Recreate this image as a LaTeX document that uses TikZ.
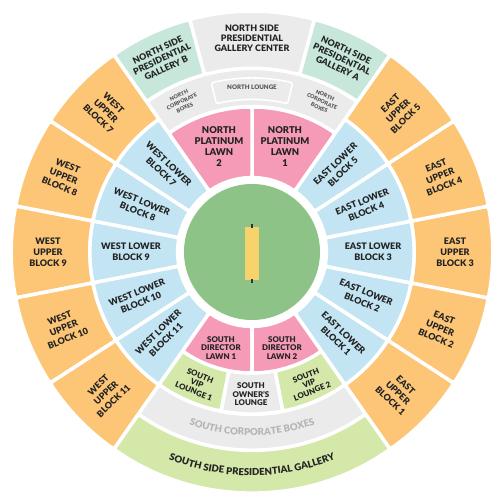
\documentclass[tikz,border=0pt]{standalone}
\usepackage{fontspec}
\setmainfont{Lato}[BoldFont={Lato Black}]
\usetikzlibrary{decorations.text}
\definecolor{orng}{HTML}{FDC677}
\definecolor{blu}{HTML}{C3E5F3}
\definecolor{pnk}{HTML}{F59BB8}
\definecolor{fld}{HTML}{8DC386}
\definecolor{ptch}{HTML}{F8D36C}
\definecolor{lgrn}{HTML}{D4E8A9}
\definecolor{mnt}{HTML}{C7E7DB}
\definecolor{gry}{HTML}{EBEBEB}
\definecolor{txt}{HTML}{232323}
\definecolor{gtxt}{HTML}{555555}
\definecolor{ltxt}{HTML}{B5B5B5}
\newcommand{\sectr}[6][]{\path[sec,fill=#2,#1] (#3:#5pt) arc[start angle=#3,end angle=#4,radius=#5pt] -- (#4:#6pt) arc[start angle=#4,end angle=#3,radius=#6pt] -- cycle;}
\tikzset{
  sec/.style={draw=white,line width=3.5pt,rounded corners=2.5pt},
  lbl/.style={align=center,text=txt,inner sep=0pt,font=\bfseries\fontsize{9}{11}\selectfont},
  lblm/.style={align=center,text=txt,inner sep=0pt,font=\bfseries\fontsize{7.9}{8.5}\selectfont},
  lbls/.style={align=center,text=gtxt,inner sep=0pt,font=\bfseries\fontsize{5.4}{6.8}\selectfont},
}
\begin{document}
\begin{tikzpicture}[x=1pt,y=1pt]
\useasboundingbox (-252,-245) rectangle (250,252);
\fill[white] (-252,-245) rectangle (250,252);
% field
\fill[fld] (0,0) circle[radius=68pt];
\fill[ptch] (-7,-28) rectangle (7,25.3);
\fill[black!80] (-0.7,23.8) rectangle (0.7,28.3);
\fill[black!80] (-0.7,-26.5) rectangle (0.7,-30.5);
% west upper
\sectr{orng}{125}{147}{162}{240.75}
\sectr{orng}{147}{169}{162}{240.75}
\sectr{orng}{169}{191}{162}{240.75}
\sectr{orng}{191}{213}{162}{240.75}
\sectr{orng}{213}{235}{162}{240.75}
% east upper
\sectr{orng}{-55}{-33}{162}{240.75}
\sectr{orng}{-33}{-11}{162}{240.75}
\sectr{orng}{-11}{11}{162}{240.75}
\sectr{orng}{11}{33}{162}{240.75}
\sectr{orng}{33}{55}{162}{240.75}
% west lower
\sectr{blu}{125}{147}{74.25}{162}
\sectr{blu}{147}{169}{74.25}{162}
\sectr{blu}{169}{191}{74.25}{162}
\sectr{blu}{191}{213}{74.25}{162}
\sectr{blu}{213}{235}{74.25}{162}
% east lower
\sectr{blu}{-55}{-33}{74.25}{162}
\sectr{blu}{-33}{-11}{74.25}{162}
\sectr{blu}{-11}{11}{74.25}{162}
\sectr{blu}{11}{33}{74.25}{162}
\sectr{blu}{33}{55}{74.25}{162}
% north
\sectr{pnk}{55}{90}{74.25}{145}
\sectr{pnk}{90}{125}{74.25}{145}
\sectr{gry}{55}{125}{145}{183.5}
\sectr[line width=1.6pt,rounded corners=1.5pt]{gry}{76.5}{103.5}{152.5}{174}
\sectr{mnt}{55}{75}{183.5}{240.75}
\sectr{gry}{75}{105}{183.5}{240.75}
\sectr{mnt}{105}{125}{183.5}{240.75}
% south
\sectr{pnk}{235}{270}{74.25}{121}
\sectr{pnk}{270}{305}{74.25}{121}
\sectr{lgrn}{235}{259}{121}{162}
\sectr{gry}{259}{281}{121}{162}
\sectr{lgrn}{281}{305}{121}{162}
\sectr{gry}{235}{305}{162}{198}
\sectr{lgrn}{235}{305}{198}{240.75}
% labels west
\node[lbl,rotate=-44] (wu7) at (136:203pt) {WEST\\UPPER\\BLOCK 7};
\node[lbl,rotate=-22] (wu8) at (158:203pt) {WEST\\UPPER\\BLOCK 8};
\node[lbl] (wu9) at (180:204pt) {WEST\\UPPER\\BLOCK 9};
\node[lbl,rotate=22] (wu10) at (202:203pt) {WEST\\UPPER\\BLOCK 10};
\node[lbl,rotate=44] (wu11) at (224:203pt) {WEST\\UPPER\\BLOCK 11};
\node[lbl,rotate=-44] (wl7) at (136:121pt) {WEST LOWER\\BLOCK 7};
\node[lbl,rotate=-22] (wl8) at (158:121pt) {WEST LOWER\\BLOCK 8};
\node[lbl] (wl9) at (180:121pt) {WEST LOWER\\BLOCK 9};
\node[lbl,rotate=22] (wl10) at (202:122pt) {WEST LOWER\\BLOCK 10};
\node[lbl,rotate=44] (wl11) at (223:123pt) {WEST LOWER\\BLOCK 11};
% labels east
\node[lbl,rotate=44] (eu5) at (44:203pt) {EAST\\UPPER\\BLOCK 5};
\node[lbl,rotate=22] (eu4) at (22:203pt) {EAST\\UPPER\\BLOCK 4};
\node[lbl] (eu3) at (0:203pt) {EAST\\UPPER\\BLOCK 3};
\node[lbl,rotate=-22] (eu2) at (-22:203pt) {EAST\\UPPER\\BLOCK 2};
\node[lbl,rotate=-44] (eu1) at (-44:203pt) {EAST\\UPPER\\BLOCK 1};
\node[lbl,rotate=44] (el5) at (44:121pt) {EAST LOWER\\BLOCK 5};
\node[lbl,rotate=22] (el4) at (22:121pt) {EAST LOWER\\BLOCK 4};
\node[lbl] (el3) at (0:121pt) {EAST LOWER\\BLOCK 3};
\node[lbl,rotate=-22] (el2) at (-22:121pt) {EAST LOWER\\BLOCK 2};
\node[lbl,rotate=-44] (el1) at (-44:122pt) {EAST LOWER\\BLOCK 1};
% north labels
\node[lbl,font=\bfseries\fontsize{9.4}{11}\selectfont] (npl2) at (-33,105) {NORTH\\PLATINUM\\LAWN\\2};
\node[lbl,font=\bfseries\fontsize{9.4}{11}\selectfont] (npl1) at (33,105) {NORTH\\PLATINUM\\LAWN\\1};
\node[lbls,rotate=25] (ncb2) at (115:166pt) {NORTH\\CORPORATE\\BOXES};
\node[lbls,rotate=-25] (ncb1) at (65:166pt) {NORTH\\CORPORATE\\BOXES};
\node[lbls,font=\bfseries\fontsize{6.2}{7}\selectfont] (nl) at (0,164.5) {NORTH LOUNGE};
\node[lbl,font=\bfseries\fontsize{8.9}{10}\selectfont] (npgc) at (0,214) {NORTH SIDE\\PRESIDENTIAL\\GALLERY CENTER};
\node[lbl,font=\bfseries\fontsize{8.9}{10}\selectfont,rotate=25] (npgb) at (115:213pt) {NORTH SIDE\\PRESIDENTIAL\\GALLERY B};
\node[lbl,font=\bfseries\fontsize{8.9}{10}\selectfont,rotate=-25] (npga) at (65:213pt) {NORTH SIDE\\PRESIDENTIAL\\GALLERY A};
% south labels
\node[lblm] (sdl1) at (-31,-96) {SOUTH\\DIRECTOR\\LAWN 1};
\node[lblm] (sdl2) at (30,-96) {SOUTH\\DIRECTOR\\LAWN 2};
\node[lblm,rotate=-22] (svl1) at (-55,-131.5) {SOUTH\\VIP\\LOUNGE 1};
\node[lblm,rotate=22] (svl2) at (57,-131.5) {SOUTH\\VIP\\LOUNGE 2};
\node[lblm] (sol) at (-1,-142.3) {SOUTH\\OWNER’S\\LOUNGE};
\path[decorate,decoration={text along path,text align=center,
  text={|\bfseries\fontsize{9.6}{10}\selectfont\color{ltxt}|SOUTH CORPORATE BOXES}}]
  (238:183.5pt) arc[start angle=238,end angle=302,radius=183.5pt];
\path[decorate,decoration={text along path,text align=center,
  text={|\bfseries\fontsize{9.6}{10}\selectfont\color{txt}|SOUTH SIDE PRESIDENTIAL GALLERY}}]
  (238:223.5pt) arc[start angle=238,end angle=302,radius=223.5pt];
\end{tikzpicture}
\end{document}
